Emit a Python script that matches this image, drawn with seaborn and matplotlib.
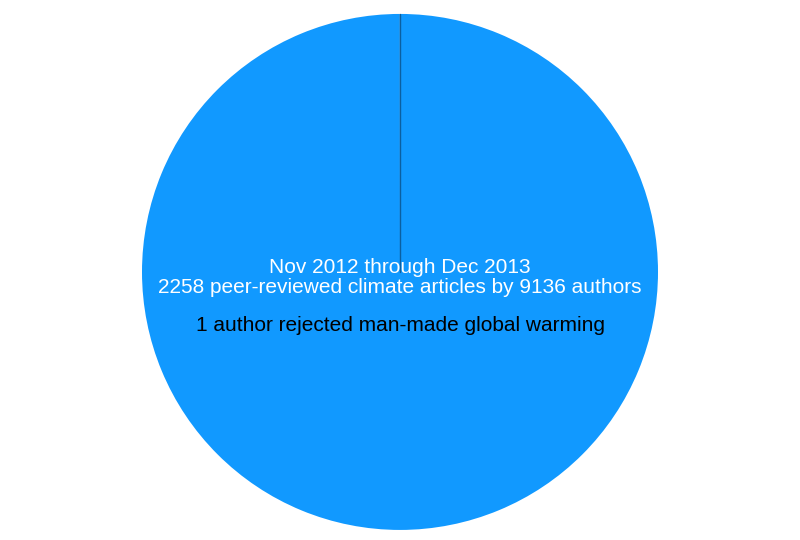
import matplotlib
matplotlib.use("Agg")
import matplotlib.pyplot as plt
import seaborn as sns

sns.set_theme(style="white")
plt.rcParams['font.family'] = ['Liberation Sans', 'DejaVu Sans']

labels = ["Accepted", "Rejected"]
values = [9135, 1]
colors = ["#1199ff", "#0b5fa0"]

fig = plt.figure(figsize=(8, 5.4), dpi=100)
ax = fig.add_axes([0, 0, 1, 1])
ax.pie(values, colors=colors, startangle=90, counterclock=False,
       center=(0, 0), radius=1,
       wedgeprops=dict(linewidth=0))
ax.plot([0, 0], [0, 1], color="#0b5fa0", lw=1)
ax.set_xlim(-1.55, 1.55)
ax.set_ylim(-1.039, 1.054)
ax.set_aspect('equal')
ax.axis('off')
ax.text(0, 0.019, "Nov 2012 through Dec 2013",
        ha='center', va='center', color='white', fontsize=15)
ax.text(0, -0.062, "2258 peer-reviewed climate articles by 9136 authors",
        ha='center', va='center', color='white', fontsize=15)
ax.text(0, -0.209, "1 author rejected man-made global warming",
        ha='center', va='center', color='black', fontsize=15)
fig.savefig("out.png", dpi=100)
